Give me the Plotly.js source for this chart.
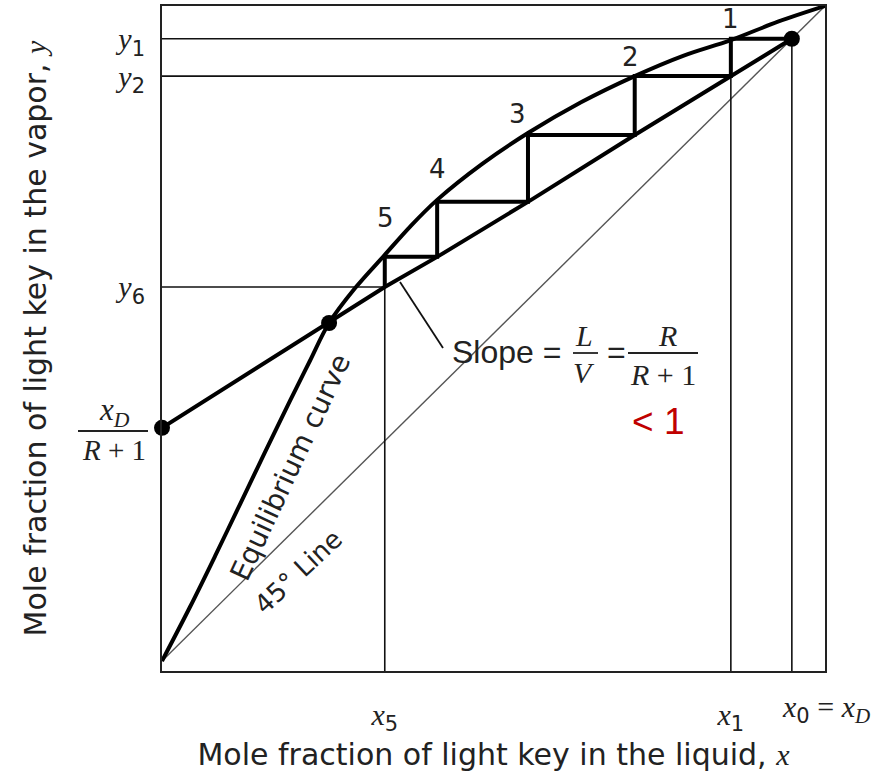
<!DOCTYPE html>
<html>
<head>
<meta charset="utf-8">
<script src="https://cdn.plot.ly/plotly-3.0.1.min.js"></script>
<style>html,body{margin:0;padding:0;background:#fff;}</style>
</head>
<body>
<div id="chart" style="width:896px;height:772px;"></div>
<script>
// ---------- data ----------
const xD = 0.95;                       // x0 = xD
const intercept = 0.356;               // xD/(R+1)
const pinchX = 0.252, pinchY = 0.516;  // intersection of operating line and equilibrium curve
// stage compositions: x0..x5 and y1..y6
const stageX = [0.95, 0.858, 0.713, 0.552, 0.415, 0.336];
const stageY = [0.95, 0.893, 0.803, 0.701, 0.617, 0.571];
const stageLabels = ['1', '2', '3', '4', '5'];
// equilibrium curve
const eqX = [0, 0.042, 0.080, 0.118, 0.155, 0.193, 0.223, 0.252, 0.291, 0.336, 0.375, 0.415, 0.483, 0.552, 0.632, 0.713, 0.786, 0.858, 0.929, 1.0];
const eqY = [0, 0.082, 0.160, 0.240, 0.318, 0.397, 0.458, 0.516, 0.569, 0.620, 0.664, 0.704, 0.759, 0.806, 0.853, 0.893, 0.924, 0.948, 0.976, 1.0];
// operating (rectifying) line
const opX = [0, 0.252, 0.336, 0.415, 0.552, 0.713, 0.858, 0.95];
const opY = [0.356, 0.516, 0.571, 0.617, 0.701, 0.803, 0.893, 0.95];
// 45 degree line
const diagX = [0, 1];
const diagY = [0, 1];
// tick labels
const SUBF = '<span style="font-family:DejaVu Sans">';
const yTickText = ['<i>y</i><sub>' + SUBF + '1</span></sub>', '<i>y</i><sub>' + SUBF + '2</span></sub>', '<i>y</i><sub>' + SUBF + '6</span></sub>'];
const xTickText = ['<i>x</i><sub>' + SUBF + '5</span></sub>', '<i>x</i><sub>' + SUBF + '1</span></sub>'];

// ---------- layout constants ----------
const Y0 = -0.0153;
const L = 162, T = 6, W = 663, H = 665;
function P(px, py) { return { x: (px - L) / W, y: (T + H - py) / H }; }

// staircase
const sx = [stageX[0]], sy = [stageY[0]];
for (let i = 1; i < stageX.length; i++) {
  sx.push(stageX[i]); sy.push(stageY[i - 1]);
  sx.push(stageX[i]); sy.push(stageY[i]);
}
// thin guide lines
const gx = [0, stageX[1], null, 0, stageX[2], null, 0, stageX[5], null,
            stageX[5], stageX[5], null, stageX[1], stageX[1], null, stageX[0], stageX[0]];
const gy = [stageY[0], stageY[0], null, stageY[1], stageY[1], null, stageY[5], stageY[5], null,
            stageY[5], Y0, null, stageY[1], Y0, null, stageY[0], Y0];

const traces = [
  { x: diagX, y: diagY, mode: 'lines', line: { color: '#555', width: 1.4 }, hoverinfo: 'skip' },
  { x: gx, y: gy, mode: 'lines', line: { color: '#111', width: 1.6 }, hoverinfo: 'skip' },
  { x: eqX, y: eqY, mode: 'lines', line: { color: '#000', width: 4, shape: 'spline', smoothing: 1 }, hoverinfo: 'skip' },
  { x: opX, y: opY, mode: 'lines', line: { color: '#000', width: 4 }, hoverinfo: 'skip' },
  { x: sx, y: sy, mode: 'lines', line: { color: '#000', width: 4 }, hoverinfo: 'skip' },
  { x: [0, pinchX, xD], y: [intercept, pinchY, xD], mode: 'markers',
    marker: { color: '#000', size: 16, symbol: 'circle' }, cliponaxis: false, hoverinfo: 'skip' }
];

const sans = 'DejaVu Sans';
const serif = 'Liberation Serif';
function ann(px, py, text, font, extra) {
  const p = P(px, py);
  return Object.assign({ xref: 'paper', yref: 'paper', x: p.x, y: p.y, text: text, showarrow: false,
    xanchor: 'center', yanchor: 'middle', font: font }, extra || {});
}
const stagePos = [[730, 19], [630, 57], [517, 114], [437, 169], [385, 218]];
const annotations = stageLabels.map((t, i) => ann(stagePos[i][0], stagePos[i][1], t, { family: sans, size: 26, color: '#222' }));
annotations.push(
  ann(290, 467, 'Equilibrium curve', { family: sans, size: 28, color: '#222' }, { textangle: -65 }),
  ann(298, 572, '45° Line', { family: sans, size: 26, color: '#222' }, { textangle: -43 }),
  ann(450, 352, 'Slope =', { family: 'Liberation Sans', size: 32, color: '#222' }, { xanchor: 'left' }),
  ann(584, 335, '<i>L</i>', { family: serif, size: 30, color: '#222' }),
  ann(584, 372, '<i>V</i>', { family: serif, size: 30, color: '#222' }),
  ann(616, 352, '=', { family: 'Liberation Sans', size: 32, color: '#222' }),
  ann(667, 335, '<i>R</i>', { family: serif, size: 30, color: '#222' }),
  ann(663, 374, '<i>R</i> + 1', { family: serif, size: 30, color: '#222' }),
  ann(658, 421, '&lt; 1', { family: 'Liberation Sans', size: 37, color: '#c00000' }),
  ann(114, 412, '<i>x</i><sub><i>D</i></sub>', { family: serif, size: 31, color: '#222' }),
  ann(114, 450, '<i>R</i> + 1', { family: serif, size: 29, color: '#222' }),
  Object.assign(ann(0, 709, '<i>x</i><sub>' + SUBF + '0</span></sub> = <i>x</i><sub><i>D</i></sub>', { family: serif, size: 30, color: '#222' }),
    { xref: 'x', x: xD, xanchor: 'left', xshift: -12 })
);

function bar(px0, px1, py) {
  const a = P(px0, py), b = P(px1, py);
  return { type: 'line', xref: 'paper', yref: 'paper', x0: a.x, y0: a.y, x1: b.x, y1: b.y, line: { color: '#222', width: 1.8 } };
}
const l0 = P(400, 282), l1 = P(443, 348);
const shapes = [
  bar(573, 598, 353), bar(628, 698, 353), bar(78, 148, 431),
  { type: 'line', xref: 'paper', yref: 'paper', x0: l0.x, y0: l0.y, x1: l1.x, y1: l1.y, line: { color: '#111', width: 1.8 } }
];

const layout = {
  width: 896, height: 772,
  margin: { l: L, r: 896 - L - W, t: T, b: 772 - T - H, pad: 0 },
  paper_bgcolor: '#fff', plot_bgcolor: '#fff',
  showlegend: false,
  xaxis: {
    range: [0, 1], showgrid: false, zeroline: false,
    showline: true, mirror: true, linecolor: '#222', linewidth: 2,
    tickmode: 'array', tickvals: [stageX[5], stageX[1]], ticktext: xTickText,
    ticks: 'outside', ticklen: 16, tickcolor: 'rgba(0,0,0,0)',
    tickfont: { family: serif, size: 30, color: '#222' },
    title: { text: 'Mole fraction of light key in the liquid, <span style="font-family:Liberation Serif"><i>x</i></span>',
      font: { family: sans, size: 30, color: '#222' }, standoff: 10 }
  },
  yaxis: {
    range: [Y0, 1], showgrid: false, zeroline: false,
    showline: true, mirror: true, linecolor: '#222', linewidth: 2,
    tickmode: 'array', tickvals: [stageY[0], stageY[1], stageY[5]], ticktext: yTickText,
    ticks: 'outside', ticklen: 9, tickcolor: 'rgba(0,0,0,0)',
    tickfont: { family: serif, size: 30, color: '#222' },
    title: { text: 'Mole fraction of light key in the vapor, <span style="font-family:Liberation Serif"><i>y</i></span>',
      font: { family: sans, size: 30, color: '#222' }, standoff: 60 }
  },
  annotations: annotations,
  shapes: shapes
};

Plotly.newPlot('chart', traces, layout, { displayModeBar: false, staticPlot: true });
</script>
</body>
</html>
